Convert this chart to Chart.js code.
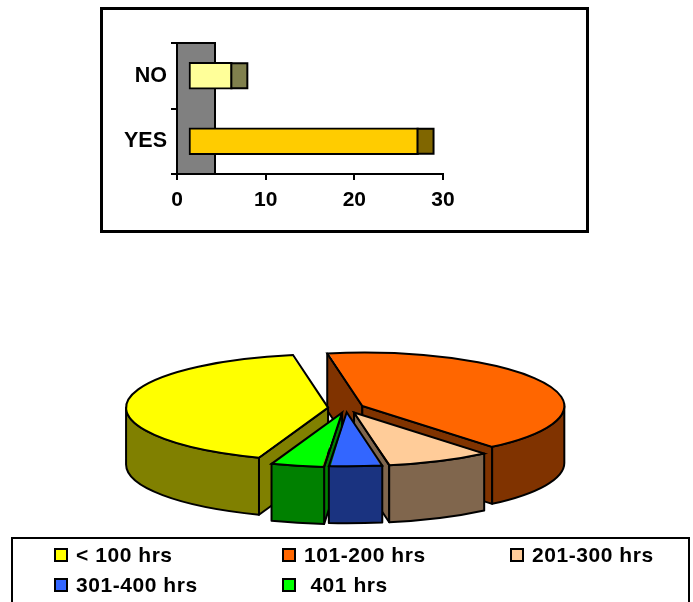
<!DOCTYPE html>
<html>
<head>
<meta charset="utf-8">
<title>Survey charts</title>
<script src="https://cdn.jsdelivr.net/npm/chart.js@4"></script>
<style>
    html, body { margin: 0; padding: 0; background: #fff; }
    body { position: relative; width: 693px; height: 602px; overflow: hidden; font-family: "Liberation Sans", Arial, sans-serif; }
    canvas { position: absolute; left: 0; }
    #barChart { top: 0; }
    #pieChart { top: 340px; }
    .frame { position: absolute; left: 100px; top: 7px; width: 483px; height: 220px; border: 3px solid #000; }
    .legend {
        position: absolute; left: 11px; top: 537px; height: 70px; width: 634px;
        border: 2px solid #000;
        display: grid; grid-template-columns: repeat(3, 228px); grid-auto-rows: 30px;
        padding: 0 0 0 41px;
    }
    .legend div { display: flex; align-items: center; font-size: 21px; font-weight: bold; letter-spacing: 0.55px; white-space: pre; margin-top: 1px; }
    .legend i { width: 10px; height: 10px; border: 2px solid #000; margin-right: 8px; flex: none; }
</style>
</head>
<body>
<div class="frame"></div>
<canvas id="barChart" width="693" height="240"></canvas>
<canvas id="pieChart" width="693" height="200"></canvas>
<div class="legend" id="legend"></div>
<script>
// Answers (horizontal bars)
const answers = ['NO', 'YES'];
const answerCounts = [5, 26];
const answerColors = ['#FFFF99', '#FFCC00'];
const answerSideColors = ['#80804D', '#806600'];
const countTicks = [0, 10, 20, 30];

// Hours (exploded pie)
const hourRanges = ['< 100 hrs', '101-200 hrs', '201-300 hrs', '301-400 hrs', '\u00a0401 hrs'];
const hourCounts = [10, 10, 2, 1, 1];
const hourColors = ['#FFFF00', '#FF6600', '#FFCC99', '#3366FF', '#00FF00'];
const hourSideColors = ['#808000', '#803300', '#80664D', '#1A3380', '#008000'];
const sliceOffsets = [72, 72, 76, 64, 72];

const fontFamily = '"Liberation Sans", Arial, sans-serif';

// Fake 3D look for the bars: grey back wall, shifted bars and a darker end cap
const wallWidth = 38;
const barShift = 11;
const capWidth = 16;

const barDepth = {
    id: 'barDepth',
    beforeDatasetsDraw(chart) {
        const { ctx, chartArea } = chart;
        ctx.save();
        ctx.fillStyle = '#808080';
        ctx.strokeStyle = '#000';
        ctx.lineWidth = 2;
        ctx.fillRect(chartArea.left, chartArea.top, wallWidth, chartArea.height);
        ctx.strokeRect(chartArea.left, chartArea.top, wallWidth, chartArea.height);
        ctx.restore();
    },
    beforeDatasetDraw(chart) {
        chart.ctx.save();
        chart.ctx.translate(barShift, 0);
    },
    afterDatasetDraw(chart, args) {
        const ctx = chart.ctx;
        args.meta.data.forEach((bar, i) => {
            const top = bar.y - bar.height / 2;
            ctx.fillStyle = answerSideColors[i];
            ctx.strokeStyle = '#000';
            ctx.lineWidth = 2;
            ctx.fillRect(bar.x - 1, top + 1, capWidth, bar.height - 2);
            ctx.strokeRect(bar.x - 1, top + 1, capWidth, bar.height - 2);
        });
        ctx.restore();
    }
};

new Chart(document.getElementById('barChart').getContext('2d'), {
    type: 'bar',
    data: {
        labels: answers,
        datasets: [{
            data: answerCounts,
            backgroundColor: answerColors,
            borderColor: '#000',
            borderWidth: 2,
            borderSkipped: false,
            barThickness: 27
        }]
    },
    options: {
        indexAxis: 'y',
        responsive: false,
        animation: false,
        layout: { padding: { top: 43, right: 250, bottom: 0, left: 0 } },
        plugins: { legend: { display: false }, tooltip: { enabled: false } },
        scales: {
            x: {
                min: countTicks[0],
                max: countTicks[countTicks.length - 1],
                afterFit(scale) { scale.height = 66; },
                afterBuildTicks(scale) { scale.ticks = countTicks.map(value => ({ value })); },
                border: { color: '#000', width: 2 },
                grid: { drawOnChartArea: false, color: '#000', lineWidth: 2, tickLength: 6 },
                ticks: { color: '#000', font: { family: fontFamily, size: 21, weight: 'bold' }, padding: 8, maxRotation: 0 }
            },
            y: {
                afterFit(scale) { scale.width = 177; },
                border: { color: '#000', width: 2 },
                grid: { drawOnChartArea: false, color: '#000', lineWidth: 2, tickLength: 6 },
                ticks: { color: '#000', font: { family: fontFamily, size: 21.5, weight: 'bold' }, padding: 4 }
            }
        }
    },
    plugins: [barDepth]
});

// Pie tilted by squashing the y axis, walls hang below each slice
const squash = 0.264;
const wallHeight = 57;

// Where a slice really ends up once the arc element has applied its offset
function sliceShape(arc) {
    const shift = arc.options.offset / 4;
    const mid = (arc.startAngle + arc.endAngle) / 2;
    const fix = 1 - Math.sin(Math.min(Math.PI, arc.circumference));
    return {
        x: arc.x + Math.cos(mid) * shift,
        y: arc.y + Math.sin(mid) * shift * squash,
        r: arc.outerRadius + shift * fix,
        start: arc.startAngle,
        end: arc.endAngle,
        mid
    };
}

function drawCutFace(ctx, s, angle, color) {
    const ex = s.x + Math.cos(angle) * s.r;
    const ey = s.y + Math.sin(angle) * s.r * squash;
    ctx.beginPath();
    ctx.moveTo(s.x, s.y);
    ctx.lineTo(ex, ey);
    ctx.lineTo(ex, ey + wallHeight);
    ctx.lineTo(s.x, s.y + wallHeight);
    ctx.closePath();
    ctx.fillStyle = color;
    ctx.fill();
    ctx.stroke();
}

function drawOuterWall(ctx, s, from, to, color) {
    ctx.beginPath();
    ctx.ellipse(s.x, s.y, s.r, s.r * squash, 0, from, to);
    ctx.ellipse(s.x, s.y + wallHeight, s.r, s.r * squash, 0, to, from, true);
    ctx.closePath();
    ctx.fillStyle = color;
    ctx.fill();
    ctx.stroke();
}

const pieDepth = {
    id: 'pieDepth',
    beforeDatasetDraw(chart, args) {
        const ctx = chart.ctx;
        const arcs = args.meta.data;

        // back slices first so the front ones cover them
        const order = arcs.map((arc, i) => i).sort((a, b) => {
            const ma = (arcs[a].startAngle + arcs[a].endAngle) / 2;
            const mb = (arcs[b].startAngle + arcs[b].endAngle) / 2;
            return Math.sin(ma) - Math.sin(mb);
        });

        ctx.save();
        ctx.strokeStyle = '#000';
        ctx.lineWidth = 2;
        ctx.lineJoin = 'round';
        order.forEach(i => {
            const s = sliceShape(arcs[i]);
            const color = hourSideColors[i];
            if (-Math.cos(s.start) > 0) drawCutFace(ctx, s, s.start, color);
            if (Math.cos(s.end) > 0) drawCutFace(ctx, s, s.end, color);
            // only the part of the rim facing the viewer
            for (let k = 0; k < 3; k++) {
                const from = Math.max(s.start, k * 2 * Math.PI);
                const to = Math.min(s.end, k * 2 * Math.PI + Math.PI);
                if (to > from) drawOuterWall(ctx, s, from, to, color);
            }
        });
        ctx.restore();

        const arc = arcs[0];
        ctx.save();
        ctx.translate(0, arc.y);
        ctx.scale(1, squash);
        ctx.translate(0, -arc.y);
    },
    afterDatasetDraw(chart, args) {
        const ctx = chart.ctx;
        ctx.restore();

        // outlines go on after the squash so the line width stays even
        ctx.save();
        ctx.strokeStyle = '#000';
        ctx.lineWidth = 2;
        args.meta.data.forEach(arc => {
            const s = sliceShape(arc);
            ctx.beginPath();
            ctx.moveTo(s.x, s.y);
            ctx.ellipse(s.x, s.y, s.r, s.r * squash, 0, s.start, s.end);
            ctx.closePath();
            ctx.stroke();
        });
        ctx.restore();
    }
};

new Chart(document.getElementById('pieChart').getContext('2d'), {
    type: 'pie',
    data: {
        labels: hourRanges,
        datasets: [{
            data: hourCounts,
            backgroundColor: hourColors,
            borderWidth: 0,
            offset: sliceOffsets,
            radius: 193,
            clip: false
        }]
    },
    options: {
        responsive: false,
        animation: false,
        rotation: 200,
        layout: { padding: { top: 0, right: 1, bottom: 64, left: 0 } },
        plugins: { legend: { display: false }, tooltip: { enabled: false } }
    },
    plugins: [pieDepth]
});

// Legend box under the pie
const legendBox = document.getElementById('legend');
hourRanges.forEach((range, i) => {
    const item = document.createElement('div');
    const swatch = document.createElement('i');
    swatch.style.background = hourColors[i];
    item.appendChild(swatch);
    item.appendChild(document.createTextNode(range));
    legendBox.appendChild(item);
});
</script>
</body>
</html>
